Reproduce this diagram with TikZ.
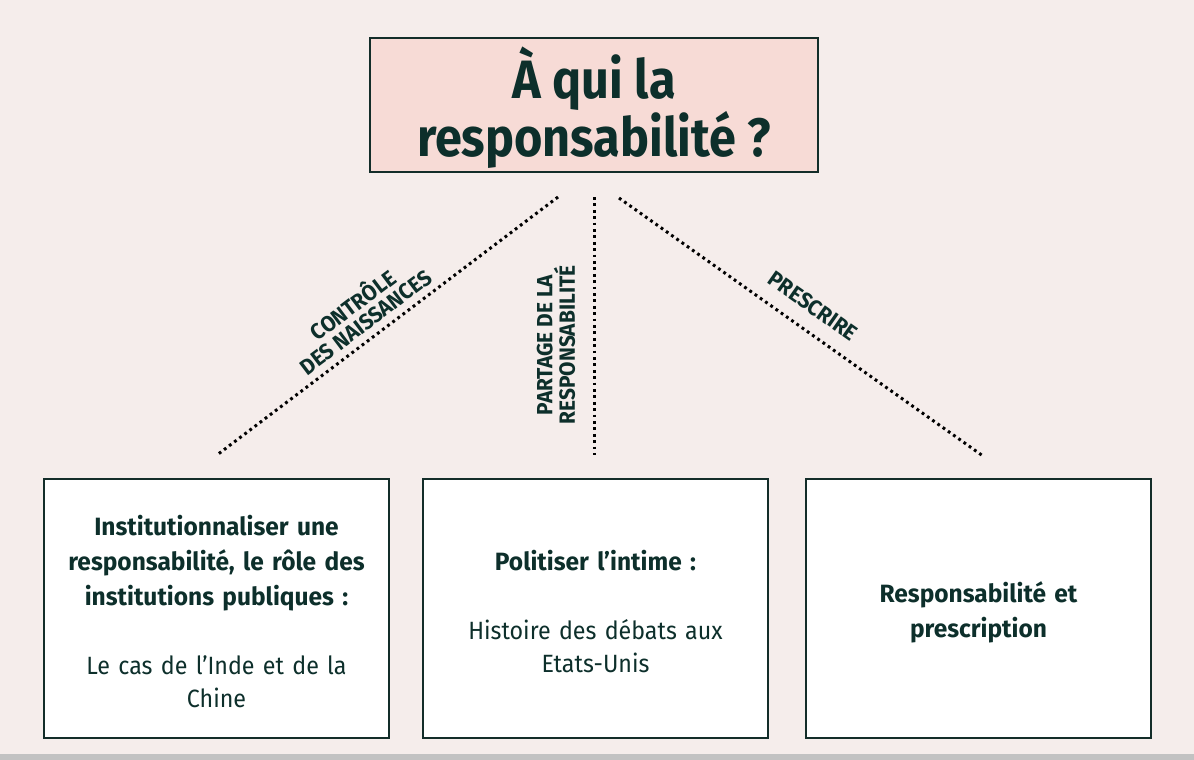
\documentclass[tikz,border=0pt]{standalone}
\usepackage{fontspec}
\setmainfont{Fira Sans}[FakeStretch=0.93]
\newfontfamily\boldfont{Fira Sans Bold}[FakeStretch=0.98]
\newfontfamily\titlefont{Fira Sans Bold}[FakeStretch=0.9]
\newfontfamily\labfont{Fira Sans Bold}[FakeStretch=0.95]
\definecolor{bg}{HTML}{F5EDEB}
\definecolor{titlefill}{HTML}{F7DBD6}
\definecolor{ink}{HTML}{0D2F2B}
\definecolor{edge}{HTML}{132D29}
\definecolor{strip}{HTML}{C2C2C2}
\begin{document}
\begin{tikzpicture}[x=1pt,y=-1pt,
  box/.style={draw=edge, line width=2pt, fill=white, minimum width=345pt, minimum height=259pt, inner sep=0pt},
  boxtext/.style={text=ink, align=center, text width=335pt, inner sep=0pt, font=\fontsize{25}{33}\selectfont},
  dots/.style={draw=black, line width=3pt, dash pattern=on 2.8pt off 3.6pt},
  lab/.style={text=ink, font=\labfont\fontsize{22}{21}\selectfont, align=center, inner sep=0pt}]
\fill[bg] (0,0) rectangle (1194,754);
\fill[strip] (0,754) rectangle (1194,760);
\useasboundingbox (0,0) rectangle (1194,760);

\node[draw=edge, line width=2pt, fill=titlefill, minimum width=448pt, minimum height=134pt] (title) at (594,105) {};
\node[text=ink, align=center, inner sep=0pt, font=\titlefont\fontsize{54}{54}\selectfont] (titletext) at (594,108) {À qui la\\responsabilité ?};

\node[box] (b1) at (216.5,608.5) {};
\node[box] (b2) at (595.5,608.5) {};
\node[box] (b3) at (978.5,608.5) {};
\node[boxtext] (t1) at (216.5,612) {\boldfont Institutionnaliser une\\[2pt]responsabilité, le rôle des\\[2pt]institutions publiques :\\[36pt]\normalfont Le cas de l’Inde et de la\\Chine};
\node[boxtext] (t2) at (595.5,612) {\boldfont Politiser l’intime :\\[36pt]\normalfont Histoire des débats aux\\Etats-Unis};
\node[boxtext] (t3) at (978.5,612) {\boldfont Responsabilité et\\[2pt]prescription};

\coordinate (lt) at (558,197); \coordinate (lb) at (217,455);
\coordinate (mt) at (594,197); \coordinate (mb) at (594,455);
\coordinate (rt) at (619,198); \coordinate (rb) at (983,456);
\draw[dots] (lt) -- (lb);
\draw[dots] (mt) -- (mb);
\draw[dots] (rt) -- (rb);

\node[lab, rotate=37] (lc) at (358,312) {CONTRÔLE\\DES NAISSANCES};
\node[lab, rotate=90] (lp) at (556,345) {PARTAGE DE LA\\RESPONSABILITÉ};
\node[lab, rotate=-35] (lr) at (813,306) {PRESCRIRE};
\end{tikzpicture}
\end{document}
